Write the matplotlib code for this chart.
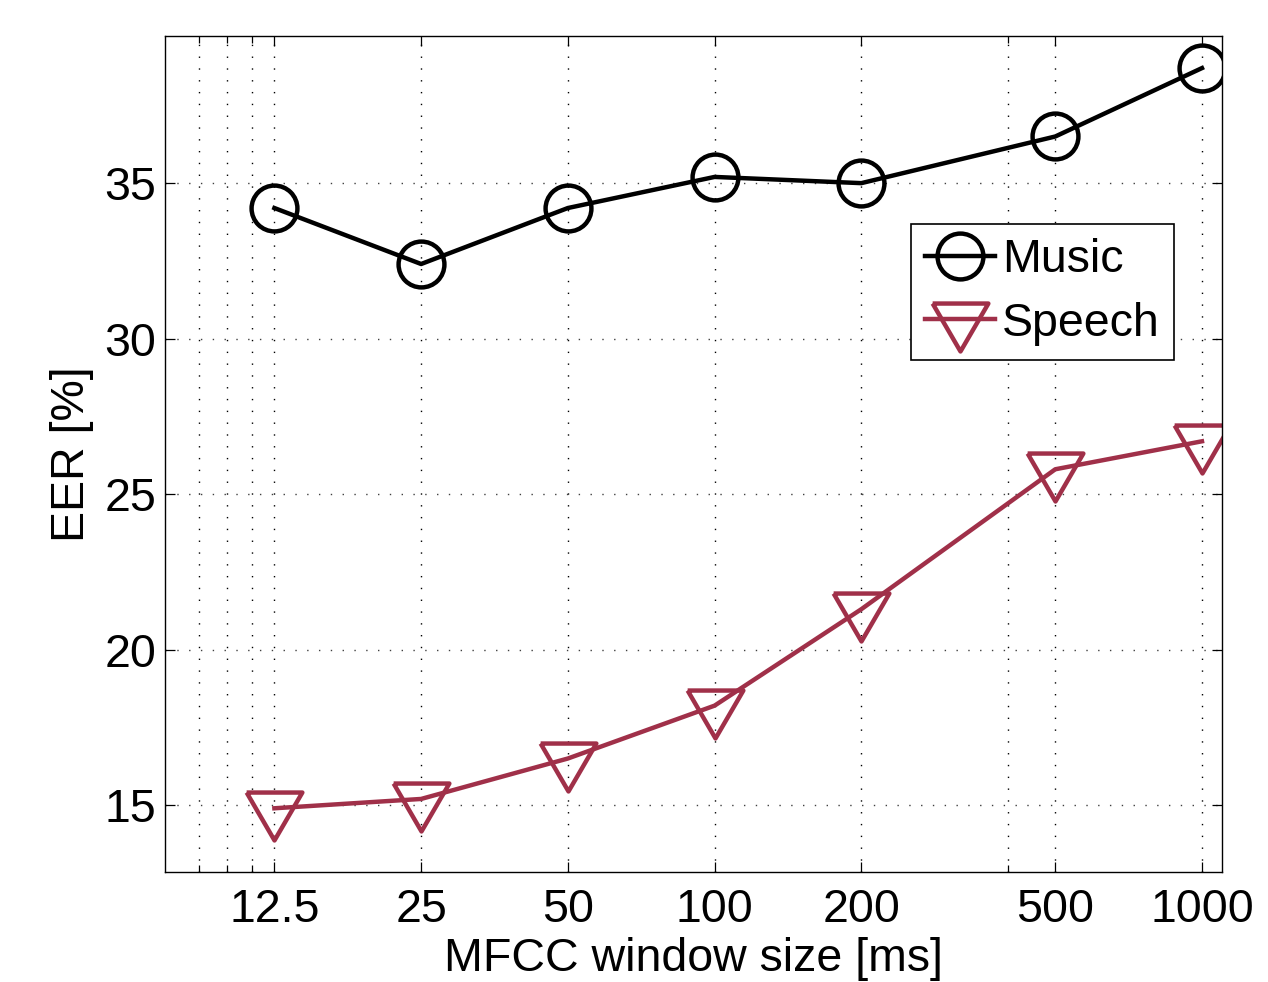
import matplotlib
matplotlib.use("Agg")
import matplotlib.pyplot as plt
from matplotlib.ticker import FixedLocator, NullFormatter

plt.rcParams['font.family'] = ['Liberation Sans', 'DejaVu Sans']

# window sizes in ms (log x axis)
window_ms = [12.5, 25, 50, 100, 200, 500, 1000]
tick_labels = ['12.5', '25', '50', '100', '200', '500', '1000']
minor_ticks = [8.75, 10, 11.25, 400]
y_ticks = [15, 20, 25, 30, 35]

# EER values
music_eer = [34.2, 32.4, 34.2, 35.2, 35.0, 36.5, 38.7]
speech_eer = [14.9, 15.2, 16.5, 18.2, 21.3, 25.8, 26.7]

speech_color = '#A03049'
fs = 33.5

# downward triangle with its centroid on the data point (like matlab 'v')
tri = [(-1.0, 0.573), (1.0, 0.573), (0.0, -1.147), (-1.0, 0.573)]

fig = plt.figure(figsize=(12.68, 9.82), dpi=100)
ax = fig.add_axes([0.130, 0.1123, 0.8337, 0.8510])

ax.plot(window_ms, music_eer, color='black', lw=3.2, marker='o', ms=33,
        mfc='none', mec='black', mew=3.2, label='Music')
ax.plot(window_ms, speech_eer, color=speech_color, lw=3.2, marker=tri, ms=46,
        mfc='none', mec=speech_color, mew=3.2, label='Speech')

ax.set_xscale('log')
ax.set_xlim(7.45, 1099)
ax.set_ylim(12.86, 39.73)

ax.xaxis.set_major_locator(FixedLocator(window_ms))
ax.set_xticklabels(tick_labels)
ax.xaxis.set_minor_locator(FixedLocator(minor_ticks))
ax.xaxis.set_minor_formatter(NullFormatter())
ax.set_yticks(y_ticks)

ax.tick_params(which='both', direction='in', top=True, right=True,
               labelsize=fs, width=0.9, color='black')
ax.tick_params(which='major', length=7)
ax.tick_params(axis='x', which='major', pad=12)
ax.tick_params(axis='y', which='major', pad=6)
ax.tick_params(which='minor', length=5)

ax.grid(True, which='both', axis='x', color='black', lw=1.0, ls=(0, (1, 7.5)))
ax.grid(True, which='major', axis='y', color='0.25', lw=1.0, ls=(0, (1, 7.5)))
ax.set_axisbelow(True)

for sp in ax.spines.values():
    sp.set_linewidth(1.0)
    sp.set_color('black')

ax.set_xlabel('MFCC window size [ms]', fontsize=fs, labelpad=3)
ax.set_ylabel('EER [%]', fontsize=fs, labelpad=8)

leg = ax.legend(loc='upper left', bbox_to_anchor=(0.706, 0.775), borderaxespad=0,
                fontsize=fs, fancybox=False, framealpha=1, edgecolor='black',
                handlelength=1.5, handletextpad=0.15, labelspacing=0.42,
                borderpad=0.3, numpoints=1)
leg.get_frame().set_linewidth(1.2)

fig.savefig('out.png', dpi=100)
